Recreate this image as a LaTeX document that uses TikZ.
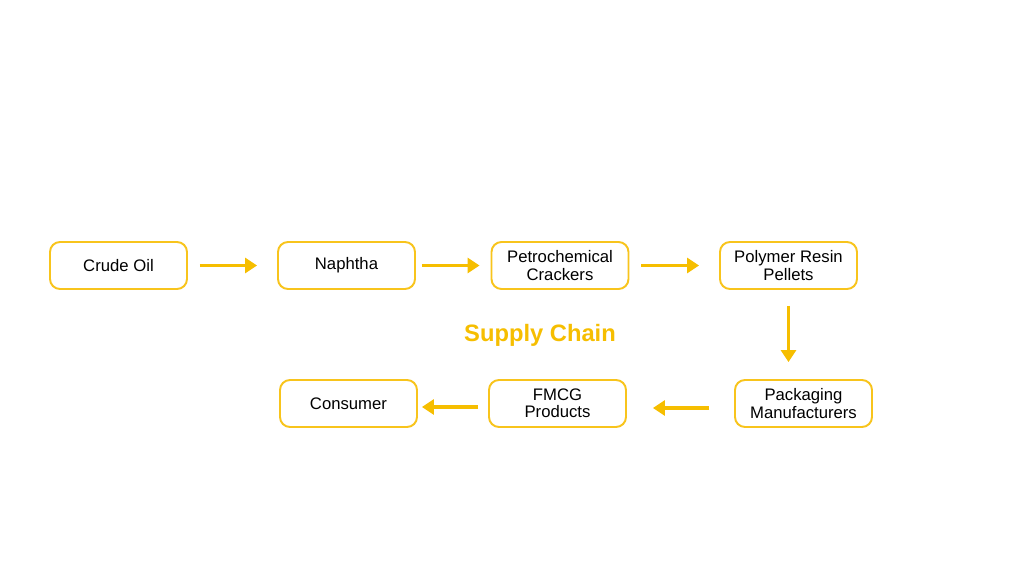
\documentclass[tikz,border=0pt]{standalone}
\usepackage{fontspec}
\setmainfont{Liberation Sans}
\usetikzlibrary{arrows.meta}
\definecolor{chainyellow}{HTML}{F6BE00}
\definecolor{boxyellow}{HTML}{F8C41C}
\tikzset{
  stage/.style={draw=boxyellow,line width=1.1pt,rounded corners=0.2cm,
    minimum width=2.74cm,minimum height=0.94cm,align=center,
    font=\fontsize{9.5}{9.8}\selectfont,inner sep=1pt},
  flow/.style={->,draw=chainyellow,line width=2pt}
}

\begin{document}
\begin{tikzpicture}[>={Triangle[length=0.24cm,width=0.3cm]}]
  \useasboundingbox[fill=white] (0,0) rectangle (20.48,11.52);
  \node[stage] (crude) at (2.37,6.21) {Crude Oil};
  \node[stage] (naphtha) at (6.93,6.21) {Naphtha};
  \node[stage] (crackers) at (11.20,6.21) {Petrochemical\\Crackers};
  \node[stage] (pellets) at (15.77,6.21) {Polymer Resin\\Pellets};
  \node[stage] (packaging) at (16.07,3.45) {Packaging\\Manufacturers};
  \node[stage] (fmcg) at (11.15,3.45) {FMCG\\Products};
  \node[stage] (consumer) at (6.97,3.45) {Consumer};
  \node[font=\bfseries\fontsize{13.5}{14}\selectfont,text=chainyellow] (title) at (10.80,4.82) {Supply Chain};
  \draw[flow,shorten <=0.24cm,shorten >=0.4cm] (crude) -- (naphtha);
  \draw[flow,shorten <=0.12cm,shorten >=0.22cm] (naphtha) -- (crackers);
  \draw[flow,shorten <=0.24cm,shorten >=0.4cm] (crackers) -- (pellets);
  \draw[flow,shorten <=0.32cm,shorten >=0.34cm] (pellets.south) -- (pellets.south |- packaging.north);
  \draw[flow,shorten <=0.5cm,shorten >=0.52cm,transform canvas={yshift=-0.09cm}] (packaging) -- (fmcg);
  \draw[flow,shorten <=0.2cm,shorten >=0.08cm,transform canvas={yshift=-0.07cm}] (fmcg) -- (consumer);
\end{tikzpicture}
\end{document}
